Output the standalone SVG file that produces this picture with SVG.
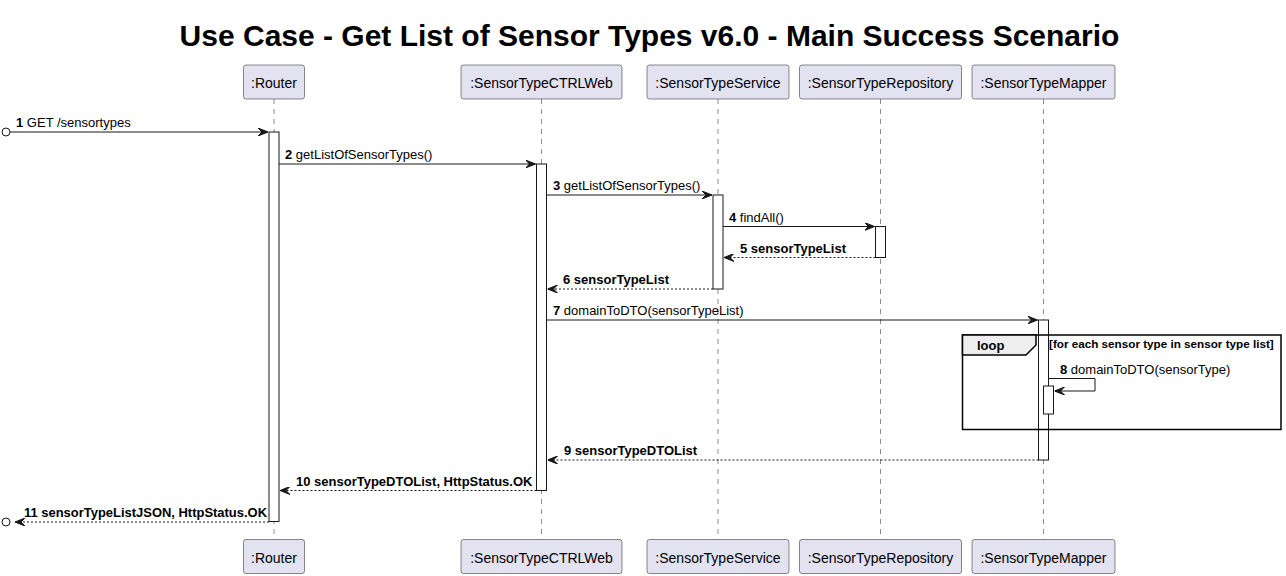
<svg xmlns="http://www.w3.org/2000/svg" width="1286" height="576" viewBox="0 0 1286 576">
<style>
  .title{font-family:"Liberation Sans",Arial,sans-serif;font-size:30px;font-weight:bold;fill:#000}
  .pbox{fill:#E2E2F0;stroke:#181818;stroke-width:0.5}
  .pname{font-family:"Liberation Sans",Arial,sans-serif;font-size:14px;fill:#000;text-anchor:middle}
  .life{stroke:#181818;stroke-width:0.5;stroke-dasharray:5,5;fill:none}
  .act{fill:#FFFFFF;stroke:#181818;stroke-width:1}
  .msg{stroke:#181818;stroke-width:1;fill:none;marker-end:url(#ah)}
  .ret{stroke:#181818;stroke-width:1;fill:none;stroke-dasharray:2,2;marker-end:url(#ah)}
  .lbl{font-family:"Liberation Sans",Arial,sans-serif;font-size:13px;fill:#000}
  .b{font-weight:bold}
  .circ{fill:none;stroke:#181818;stroke-width:1}
  .frame{fill:none;stroke:#000;stroke-width:1.5}
  .tab{fill:#EEEEEE;stroke:#000;stroke-width:1.5}
  .guard{font-family:"Liberation Sans",Arial,sans-serif;font-size:11.7px;font-weight:bold;fill:#000}
</style>
<defs>
  <marker id="ah" viewBox="0 0 10 8" refX="10" refY="4" markerWidth="10" markerHeight="8" markerUnits="userSpaceOnUse" orient="auto">
    <path d="M0,0 L10,4 L0,8 L4,4 Z" fill="#181818" stroke="#181818" stroke-width="1"/>
  </marker>
</defs>
<rect width="1286" height="576" fill="#FFFFFF"/>
<text class="title" x="649.5" y="46" text-anchor="middle">Use Case - Get List of Sensor Types v6.0 - Main Success Scenario</text>

<g id="lifelines">
  <line class="life" x1="274" y1="99" x2="274" y2="539.5"/>
  <line class="life" x1="541.5" y1="99" x2="541.5" y2="539.5"/>
  <line class="life" x1="718" y1="99" x2="718" y2="539.5"/>
  <line class="life" x1="880.5" y1="99" x2="880.5" y2="539.5"/>
  <line class="life" x1="1043.5" y1="99" x2="1043.5" y2="539.5"/>
</g>

<g id="router">
  <rect class="pbox" x="243.5" y="65" width="61" height="34" rx="2.5"/>
  <text class="pname" x="274" y="88">:Router</text>
  <rect class="pbox" x="243.5" y="539.5" width="61" height="34" rx="2.5"/>
  <text class="pname" x="274" y="562.5">:Router</text>
</g>
<g id="ctrlweb">
  <rect class="pbox" x="461" y="65" width="161" height="34" rx="2.5"/>
  <text class="pname" x="541.5" y="88">:SensorTypeCTRLWeb</text>
  <rect class="pbox" x="461" y="539.5" width="161" height="34" rx="2.5"/>
  <text class="pname" x="541.5" y="562.5">:SensorTypeCTRLWeb</text>
</g>
<g id="service">
  <rect class="pbox" x="647" y="65" width="142" height="34" rx="2.5"/>
  <text class="pname" x="718" y="88">:SensorTypeService</text>
  <rect class="pbox" x="647" y="539.5" width="142" height="34" rx="2.5"/>
  <text class="pname" x="718" y="562.5">:SensorTypeService</text>
</g>
<g id="repository">
  <rect class="pbox" x="799.5" y="65" width="162" height="34" rx="2.5"/>
  <text class="pname" x="880.5" y="88">:SensorTypeRepository</text>
  <rect class="pbox" x="799.5" y="539.5" width="162" height="34" rx="2.5"/>
  <text class="pname" x="880.5" y="562.5">:SensorTypeRepository</text>
</g>
<g id="mapper">
  <rect class="pbox" x="972" y="65" width="143" height="34" rx="2.5"/>
  <text class="pname" x="1043.5" y="88">:SensorTypeMapper</text>
  <rect class="pbox" x="972" y="539.5" width="143" height="34" rx="2.5"/>
  <text class="pname" x="1043.5" y="562.5">:SensorTypeMapper</text>
</g>

<g id="activations">
  <rect class="act" x="269" y="132" width="10" height="389.5"/>
  <rect class="act" x="536.5" y="164" width="10" height="326.5"/>
  <rect class="act" x="713" y="195" width="10" height="94"/>
  <rect class="act" x="875.5" y="226.5" width="10" height="31"/>
  <rect class="act" x="1038.5" y="320" width="10" height="140"/>
  <rect class="act" x="1043.5" y="386" width="10" height="28"/>
</g>

<g id="loop-frame">
  <rect class="frame" x="962.5" y="335" width="318.5" height="94.5"/>
  <path class="tab" d="M962.5,335 H1036 V345 L1026,355 H962.5 Z"/>
  <text class="lbl b" x="977" y="349.5">loop</text>
  <text class="guard" x="1049" y="347.5">[for each sensor type in sensor type list]</text>
</g>

<g id="connectors">
  <circle class="circ" cx="6" cy="132" r="4"/>
  <line class="msg" x1="10" y1="132" x2="268" y2="132"/>
  <text class="lbl" x="16" y="127"><tspan class="b">1</tspan> GET /sensortypes</text>

  <line class="msg" x1="279" y1="164" x2="535.5" y2="164"/>
  <text class="lbl" x="285" y="159"><tspan class="b">2</tspan> getListOfSensorTypes()</text>

  <line class="msg" x1="546.5" y1="195" x2="712" y2="195"/>
  <text class="lbl" x="553" y="190"><tspan class="b">3</tspan> getListOfSensorTypes()</text>

  <line class="msg" x1="723" y1="226.5" x2="874.5" y2="226.5"/>
  <text class="lbl" x="729" y="221.5"><tspan class="b">4</tspan> findAll()</text>

  <line class="ret" x1="875.5" y1="257.5" x2="724" y2="257.5"/>
  <text class="lbl b" x="740" y="252.5">5 sensorTypeList</text>

  <line class="ret" x1="713" y1="289" x2="547.5" y2="289"/>
  <text class="lbl b" x="563" y="284">6 sensorTypeList</text>

  <line class="msg" x1="546.5" y1="320" x2="1037.5" y2="320"/>
  <text class="lbl" x="553" y="315"><tspan class="b">7</tspan> domainToDTO(sensorTypeList)</text>

  <path class="msg" d="M1048.5,378.5 H1095 V391 H1054.5"/>
  <text class="lbl" x="1060" y="373.5"><tspan class="b">8</tspan> domainToDTO(sensorType)</text>

  <line class="ret" x1="1038.5" y1="460" x2="547.5" y2="460"/>
  <text class="lbl b" x="564" y="455">9 sensorTypeDTOList</text>

  <line class="ret" x1="536.5" y1="490.5" x2="280" y2="490.5"/>
  <text class="lbl b" x="296" y="485.5">10 sensorTypeDTOList, HttpStatus.OK</text>

  <line class="ret" x1="269" y1="522" x2="15" y2="522"/>
  <circle class="circ" cx="6" cy="522" r="4"/>
  <text class="lbl b" x="24" y="517" textLength="243" lengthAdjust="spacingAndGlyphs">11 sensorTypeListJSON, HttpStatus.OK</text>
</g>
</svg>
